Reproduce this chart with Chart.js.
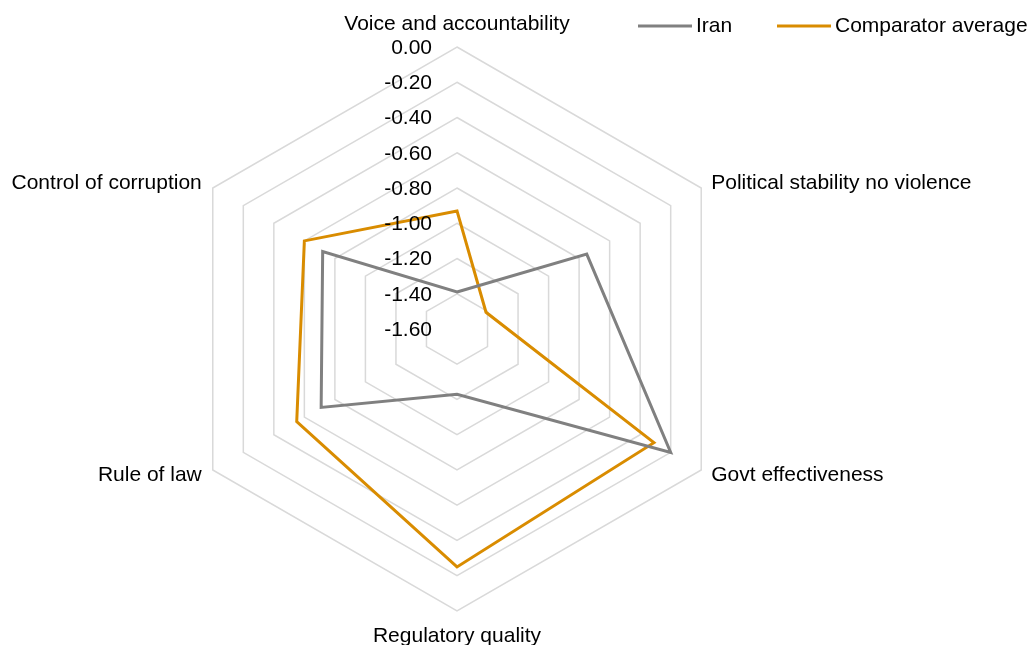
<!DOCTYPE html>
<html>
<head>
<meta charset="utf-8">
<script src="https://cdn.jsdelivr.net/npm/chart.js@4.4.1/dist/chart.umd.min.js"></script>
<style>
  body { margin: 0; background: #fff; }
  #wrap { width: 1033px; height: 645px; }
</style>
</head>
<body>
<div id="wrap"><canvas id="radar" width="1033" height="645"></canvas></div>
<script>
const categories = ['Voice and accountability', 'Political stability no violence', 'Govt effectiveness', 'Regulatory quality', 'Rule of law', 'Control of corruption'];
const iran = [-1.39, -0.75, -0.20, -1.23, -0.71, -0.72];
const comparator = [-0.93, -1.41, -0.31, -0.25, -0.55, -0.60];
const tickValues = [0, -0.2, -0.4, -0.6, -0.8, -1.0, -1.2, -1.4, -1.6];
const tickLabels = ['0.00', '-0.20', '-0.40', '-0.60', '-0.80', '-1.00', '-1.20', '-1.40', '-1.60'];

const FONT = '21px "Liberation Sans", Arial, sans-serif';
const GREY = '#808080';
const ORANGE = '#d98c00';

// tick labels, category labels and legend drawn by hand (excel style)
const excelText = {
  id: 'excelText',
  afterDraw(chart) {
    const ctx = chart.ctx;
    const scale = chart.scales.r;
    ctx.save();
    ctx.font = FONT;
    ctx.fillStyle = '#000';

    // value ticks, left of the vertical axis
    ctx.textAlign = 'right';
    ctx.textBaseline = 'middle';
    tickValues.forEach((v, i) => {
      const y = scale.yCenter - scale.getDistanceFromCenterForValue(v);
      ctx.fillText(tickLabels[i], scale.xCenter - 25, y + 1);
    });

    // category labels
    categories.forEach((name, i) => {
      const p = scale.getPointPosition(i, scale.drawingArea);
      const dx = p.x - scale.xCenter;
      const dy = p.y - scale.yCenter;
      if (Math.abs(dx) < 1) {
        ctx.textAlign = 'center';
        ctx.fillText(name, p.x, p.y + (dy < 0 ? -23 : 25));
      } else {
        ctx.textAlign = dx > 0 ? 'left' : 'right';
        ctx.fillText(name, p.x + (dx > 0 ? 10 : -11), p.y + (dy < 0 ? -5 : 5));
      }
    });

    // legend
    const items = [['Iran', GREY, 638], ['Comparator average', ORANGE, 777]];
    ctx.textAlign = 'left';
    items.forEach(([txt, col, x]) => {
      ctx.strokeStyle = col;
      ctx.lineWidth = 3;
      ctx.beginPath();
      ctx.moveTo(x, 26);
      ctx.lineTo(x + 54, 26);
      ctx.stroke();
      ctx.fillText(txt, x + 58, 26);
    });
    ctx.restore();
  }
};

new Chart(document.getElementById('radar'), {
  type: 'radar',
  data: {
    labels: categories,
    datasets: [{
      label: 'Iran',
      data: iran,
      borderColor: GREY,
      borderWidth: 3,
      pointRadius: 0,
      fill: false
    }, {
      label: 'Comparator average',
      data: comparator,
      borderColor: ORANGE,
      borderWidth: 3,
      pointRadius: 0,
      fill: false
    }]
  },
  options: {
    responsive: false,
    animation: false,
    layout: {
      padding: { left: 175, top: 47, right: 293, bottom: 33 }
    },
    plugins: {
      legend: { display: false },
      tooltip: { enabled: false }
    },
    scales: {
      r: {
        min: -1.6,
        max: 0,
        ticks: { stepSize: 0.2, display: false },
        grid: { color: '#d9d9d9', lineWidth: 1.5 },
        angleLines: { display: false },
        pointLabels: { display: false }
      }
    }
  },
  plugins: [excelText]
});
</script>
</body>
</html>
